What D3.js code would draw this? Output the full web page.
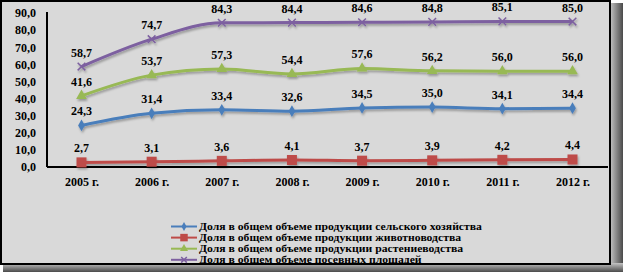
<!DOCTYPE html>
<html>
<head>
<meta charset="utf-8">
<script src="https://cdn.jsdelivr.net/npm/d3@7"></script>
<style>
  body { margin: 0; background: #fff; }
  svg text { font-family: "Liberation Serif", "DejaVu Serif", serif !important; font-weight: bold; fill: #000; }
</style>
</head>
<body>
<div id="chart"></div>
<script>
// data
var years = ["2005 г.", "2006 г.", "2007 г.", "2008 г.", "2009 г.", "2010 г.", "2011 г.", "2012 г."];
var agriculture = [24.3, 31.4, 33.4, 32.6, 34.5, 35.0, 34.1, 34.4];
var livestock   = [2.7, 3.1, 3.6, 4.1, 3.7, 3.9, 4.2, 4.4];
var crops       = [41.6, 53.7, 57.3, 54.4, 57.6, 56.2, 56.0, 56.0];
var sownArea    = [58.7, 74.7, 84.3, 84.4, 84.6, 84.8, 85.1, 85.0];
var yTicks = [0, 10, 20, 30, 40, 50, 60, 70, 80, 90];
var seriesNames = [
  "Доля в общем объеме продукции сельского хозяйства",
  "Доля в общем объеме продукции животноводства",
  "Доля в общем объеме продукции растениеводства",
  "Доля в общем объеме посевных площадей"
];

var W = 623, H = 272;
var series = [
  {name: seriesNames[0], values: agriculture, color: "#4a7ebb", marker: "diamond"},
  {name: seriesNames[1], values: livestock,   color: "#be4b48", marker: "square"},
  {name: seriesNames[2], values: crops,       color: "#98b954", marker: "triangle"},
  {name: seriesNames[3], values: sownArea,    color: "#7d60a0", marker: "cross"}
];

var fmt = function(v) { return d3.format(".1f")(v).replace(".", ","); };

var svg = d3.select("#chart").append("svg")
  .attr("width", W).attr("height", H);

// shadow + frame
var defs = svg.append("defs");
var gr = defs.append("linearGradient").attr("id", "shR").attr("x1", 0).attr("x2", 1).attr("y1", 0).attr("y2", 0);
gr.append("stop").attr("offset", 0).attr("stop-color", "#c4c4c4");
gr.append("stop").attr("offset", 1).attr("stop-color", "#4a4a4a");
var gb = defs.append("linearGradient").attr("id", "shB").attr("x1", 0).attr("x2", 0).attr("y1", 0).attr("y2", 1);
gb.append("stop").attr("offset", 0).attr("stop-color", "#c4c4c4");
gb.append("stop").attr("offset", 1).attr("stop-color", "#4a4a4a");
var fs = defs.append("filter").attr("id", "lineShadow").attr("x", -0.1).attr("y", -0.5).attr("width", 1.2).attr("height", 2);
fs.append("feDropShadow").attr("dx", 1).attr("dy", 2).attr("stdDeviation", 1).attr("flood-color", "#000").attr("flood-opacity", 0.3);

svg.append("rect").attr("width", W).attr("height", H).attr("fill", "#fff");
svg.append("rect").attr("x", 610).attr("y", 3).attr("width", 13).attr("height", H - 3).attr("fill", "url(#shR)");
svg.append("rect").attr("x", 3).attr("y", 263).attr("width", W - 3).attr("height", 9).attr("fill", "url(#shB)");
svg.append("rect").attr("x", 1).attr("y", 1).attr("width", 609).attr("height", 263)
  .attr("fill", "#d9d9d9").attr("stroke", "#000").attr("stroke-width", 2);

// scales
var x = d3.scalePoint().domain(years).range([81.5, 572.5]);
var y = d3.scaleLinear().domain([0, 90]).range([167, 13]);

// y axis
var yAxis = d3.axisLeft(y).tickValues(yTicks).tickFormat(fmt).tickSize(0).tickPadding(11);
var gy = svg.append("g").attr("transform", "translate(47,0)").call(yAxis);
gy.attr("font-family", null);
gy.select(".domain").attr("stroke", "#000").attr("stroke-width", 2).attr("d", "M0,12V167");
gy.selectAll("text").style("font-size", "12px");

// x axis
var xAxis = d3.axisBottom(x).tickSize(0).tickPadding(10);
var gx = svg.append("g").attr("transform", "translate(0,167)").call(xAxis);
gx.attr("font-family", null);
gx.select(".domain").attr("stroke", "#000").attr("stroke-width", 2).attr("d", "M47,0H608");
gx.selectAll("text").style("font-size", "12px");

function drawMarker(g, type, color, k) {
  if (type === "diamond") {
    g.append("path").attr("d", d3.symbol(d3.symbolDiamond, 40 * k * k)()).attr("fill", color);
  } else if (type === "square") {
    g.append("rect").attr("x", -5 * k).attr("y", -5 * k).attr("width", 10 * k).attr("height", 10 * k).attr("fill", color);
  } else if (type === "triangle") {
    g.append("path").attr("d", d3.symbol(d3.symbolTriangle, 50 * k * k)()).attr("fill", color);
  } else {
    g.append("path").attr("d", d3.symbol(d3.symbolX, 40 * k * k)()).attr("fill", "none").attr("stroke", color).attr("stroke-width", 1.5);
  }
}

var line = d3.line()
  .x(function(d, i) { return x(years[i]); })
  .y(function(d) { return y(d); })
  .curve(d3.curveMonotoneX);

series.forEach(function(s) {
  var g = svg.append("g").attr("filter", "url(#lineShadow)");
  g.append("path").datum(s.values)
    .attr("d", line).attr("fill", "none").attr("stroke", s.color).attr("stroke-width", 3);
  s.values.forEach(function(v, i) {
    var m = g.append("g").attr("transform", "translate(" + x(years[i]) + "," + y(v) + ")");
    drawMarker(m, s.marker, s.color, 1);
  });
  svg.append("g").selectAll("text").data(s.values).enter().append("text")
    .attr("x", function(d, i) { return x(years[i]); })
    .attr("y", function(d) { return y(d) - 10; })
    .attr("text-anchor", "middle")
    .style("font-size", "12px")
    .text(fmt);
});

// legend (text is squeezed vertically in the original, so stretch it sideways)
var leg = svg.append("g").attr("transform", "translate(171,226.5)");
var legTexts = [];
series.forEach(function(s, i) {
  var r = leg.append("g").attr("transform", "translate(0," + (i * 11.1) + ")");
  r.append("line").attr("x1", 0).attr("x2", 26).attr("stroke", s.color).attr("stroke-width", 2);
  var m = r.append("g").attr("transform", "translate(13,0)");
  drawMarker(m, s.marker, s.color, 0.75);
  legTexts.push(r.append("text").attr("y", 3.5).style("font-size", "10.5px").text(s.name));
});
var sx = 283 / legTexts[0].node().getComputedTextLength();
legTexts.forEach(function(t) {
  t.attr("transform", "translate(28,0) scale(" + sx + ",1)");
});
</script>
</body>
</html>
